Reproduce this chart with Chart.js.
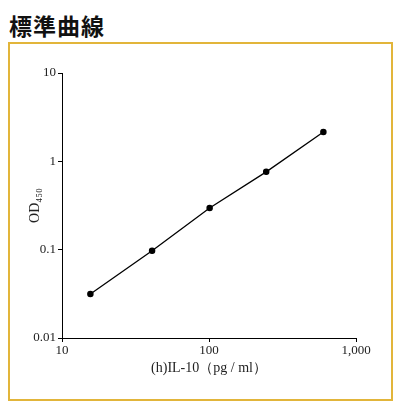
<!DOCTYPE html><html><head><meta charset="utf-8">
<script src="https://cdn.jsdelivr.net/npm/chart.js@4"></script>
<style>body{margin:0;width:400px;height:407px;background:#fff;position:relative;overflow:hidden}
#box{position:absolute;left:8px;top:42px;width:381px;height:355px;border:2px solid #e2b53a}
#t{position:absolute;left:9px;top:8px;font:bold 23px "Noto Sans CJK JP";color:#111;letter-spacing:1px}
#c{position:absolute;left:0;top:0}</style></head><body>
<div id="t">標準曲線</div><div id="box"></div>
<canvas id="c" width="400" height="407"></canvas>
<script>
const conc=[15.6,41,101,245,600];
const od=[0.0315,0.097,0.296,0.76,2.15];
const xTicks=[10,100,1000];
const yTicks=[0.01,0.1,1,10];
const F='"Liberation Serif"';
new Chart(document.getElementById('c'),{type:'scatter',
data:{datasets:[{data:conc.map((x,i)=>({x,y:od[i]})),showLine:true,borderColor:'#000',backgroundColor:'#000',borderWidth:1.3,pointRadius:2.6,pointHoverRadius:2.6}]},
options:{responsive:false,animation:false,plugins:{legend:{display:false},tooltip:{enabled:false}},
layout:{padding:{top:73,right:44,left:0,bottom:0}},
scales:{
x:{type:'logarithmic',min:10,max:1000,afterBuildTicks:a=>{a.ticks=xTicks.map(v=>({value:v}))},afterFit:s=>{s.height=69},
 grid:{display:true,drawOnChartArea:false,drawTicks:true,tickLength:4,tickColor:'#000'},border:{color:'#000',width:1},
 ticks:{color:'#222',font:{family:F,size:13},padding:1,maxRotation:0,callback:v=>v.toLocaleString('en-US')},
 title:{display:true,text:'(h)IL-10（pg / ml）',color:'#222',font:{family:F,size:14},padding:{top:0,bottom:30}}},
y:{type:'logarithmic',min:0.01,max:10,afterBuildTicks:a=>{a.ticks=yTicks.map(v=>({value:v}))},afterFit:s=>{s.width=62},
 grid:{display:true,drawOnChartArea:false,drawTicks:true,tickLength:4,tickColor:'#000'},border:{color:'#000',width:1},
 ticks:{color:'#222',font:{family:F,size:13},padding:2,callback:v=>String(v)},
 title:{display:true,text:'OD₄₅₀',color:'#222',font:{family:F,size:14},padding:{top:27,bottom:0}}}}}});
</script></body></html>
